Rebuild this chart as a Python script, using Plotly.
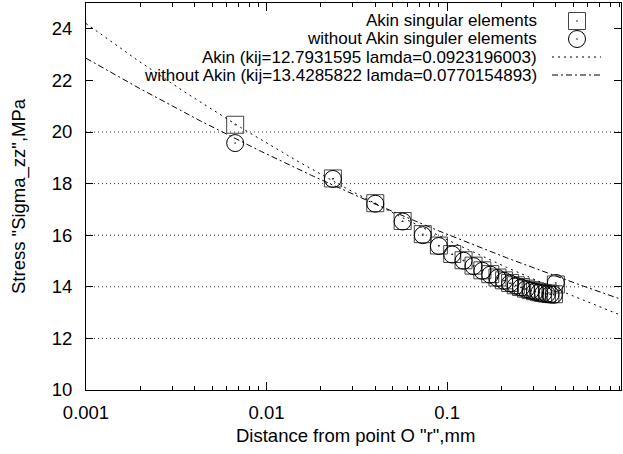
import numpy as np
import plotly.graph_objects as go

# ---- data ----
r_akin = [0.0067, 0.0233, 0.040, 0.0567, 0.0733, 0.090, 0.1067, 0.1233, 0.140, 0.1567,
          0.1733, 0.190, 0.2067, 0.2233, 0.240, 0.2567, 0.2733, 0.290, 0.3067, 0.3233,
          0.340, 0.3567, 0.3733, 0.390, 0.400]
stress_akin = [20.28, 18.20, 17.24, 16.55, 16.04, 15.60, 15.27, 15.03, 14.82, 14.64,
               14.49, 14.36, 14.25, 14.15, 14.06, 13.99, 13.93, 13.87, 13.83, 13.79,
               13.76, 13.74, 13.72, 13.71, 14.09]
r_without = list(r_akin)
stress_without = [19.57, 18.18, 17.22, 16.53, 16.00, 15.58, 15.25, 15.01, 14.80, 14.62,
                  14.47, 14.34, 14.23, 14.13, 14.04, 13.97, 13.91, 13.85, 13.81, 13.77,
                  13.74, 13.72, 13.70, 13.69, 14.15]

# fitted power laws  sigma = kij * r^(-lamda)  (parameters from the legend)
kij_akin, lamda_akin = 12.7931595, 0.0923196003
kij_without, lamda_without = 13.4285822, 0.0770154893

x_tickvals = [0.001, 0.01, 0.1]
x_ticktext = ["0.001", "0.01", "0.1"]
x_minor = [k * 10.0 ** e for e in (-3, -2, -1) for k in range(2, 10)]
y_tickvals = [10, 12, 14, 16, 18, 20, 22, 24]
y_grid = [12, 14, 16, 18, 20]
x_grid = [0.01, 0.1]

legend_labels = ["Akin singular elements", "without Akin singuler elements",
                 "Akin (kij=12.7931595 lamda=0.0923196003)",
                 "without Akin (kij=13.4285822 lamda=0.0770154893)"]

x_title = 'Distance from point O "r",mm'
y_title = 'Stress "Sigma_zz",MPa'

# ---- layout geometry ----
W, H = 623, 454
L, R, T, B = 86, 2, 3, 64
PW, PH = W - L - R, H - T - B
X_MAX = 0.918
FONT = "Liberation Sans, Arial, sans-serif"
FS = 18.5
FS_KEY = 17


def px(xp):
    return (xp - L) / PW


def py(yp):
    return 1 - (yp - T) / PH


r_fit = np.logspace(-3, np.log10(X_MAX), 300)
fit_akin = kij_akin * r_fit ** (-lamda_akin)
fit_without = kij_without * r_fit ** (-lamda_without)

fig = go.Figure()
fig.add_trace(go.Scatter(x=r_akin, y=stress_akin, mode="markers",
                         marker=dict(symbol="square-open-dot", size=17, color="#444",
                                     line=dict(width=1, color="#444")),
                         showlegend=False))
fig.add_trace(go.Scatter(x=r_without, y=stress_without, mode="markers",
                         marker=dict(symbol="circle-open-dot", size=17, color="black",
                                     line=dict(width=1, color="black")),
                         showlegend=False))
fig.add_trace(go.Scatter(x=r_fit, y=fit_akin, mode="lines",
                         line=dict(color="black", width=1, dash="2px,4px"),
                         showlegend=False))
fig.add_trace(go.Scatter(x=r_fit, y=fit_without, mode="lines",
                         line=dict(color="black", width=1, dash="6px,3px,2px,3px"),
                         showlegend=False))

shapes = []
grid_line = dict(color="#333", width=1, dash="1px,3px")
for g in y_grid:
    shapes.append(dict(type="line", xref="paper", yref="y", x0=0, x1=1, y0=g, y1=g,
                       line=grid_line, layer="below"))
for g in x_grid:
    shapes.append(dict(type="line", xref="x", yref="y", x0=np.log10(g), x1=np.log10(g),
                       y0=10, y1=21.6, line=grid_line, layer="below"))

# key (gnuplot style: text right-aligned, sample on the right)
rows = [21, 39, 57, 75]
text_right = 539
sx0, sx1, sxc = 552, 601, 577
annotations = []
for lab, ry in zip(legend_labels, rows):
    annotations.append(dict(text=lab, xref="paper", yref="paper", x=px(text_right), y=py(ry),
                            xanchor="right", yanchor="middle", showarrow=False,
                            font=dict(family=FONT, size=FS_KEY, color="black")))
hs = 8.5
shapes.append(dict(type="rect", xref="paper", yref="paper",
                   x0=px(sxc - hs), x1=px(sxc + hs), y0=py(rows[0] + hs), y1=py(rows[0] - hs),
                   line=dict(color="#444", width=1)))
shapes.append(dict(type="circle", xref="paper", yref="paper",
                   x0=px(sxc - hs), x1=px(sxc + hs), y0=py(rows[1] + hs), y1=py(rows[1] - hs),
                   line=dict(color="black", width=1)))
for ry in rows[:2]:
    shapes.append(dict(type="rect", xref="paper", yref="paper",
                       x0=px(sxc - 0.7), x1=px(sxc + 0.7), y0=py(ry + 0.7), y1=py(ry - 0.7),
                       line=dict(width=0), fillcolor="#333"))
shapes.append(dict(type="line", xref="paper", yref="paper", x0=px(sx0), x1=px(sx1),
                   y0=py(rows[2]), y1=py(rows[2]), line=dict(color="black", width=1, dash="2px,4px")))
shapes.append(dict(type="line", xref="paper", yref="paper", x0=px(sx0), x1=px(sx1),
                   y0=py(rows[3]), y1=py(rows[3]), line=dict(color="black", width=1, dash="6px,3px,2px,3px")))

annotations.append(dict(text=x_title, xref="paper", yref="paper", x=px(355), y=py(435),
                        xanchor="center", yanchor="middle", showarrow=False,
                        font=dict(family=FONT, size=FS, color="black")))
annotations.append(dict(text=y_title, xref="paper", yref="paper", x=px(19), y=py(196),
                        xanchor="center", yanchor="middle", showarrow=False, textangle=-90,
                        font=dict(family=FONT, size=FS, color="black")))

fig.update_layout(
    width=W, height=H,
    margin=dict(l=L, r=R, t=T, b=B, autoexpand=False),
    paper_bgcolor="white", plot_bgcolor="white",
    font=dict(family=FONT, size=FS, color="black"),
    shapes=shapes, annotations=annotations, showlegend=False,
    xaxis=dict(type="log", range=[-3, np.log10(X_MAX)], tickvals=x_tickvals, ticktext=x_ticktext,
               ticks="inside", ticklen=8, tickcolor="black", showline=True, linecolor="black",
               linewidth=1, mirror="allticks", showgrid=False, zeroline=False,
               ticklabelstandoff=6,
               minor=dict(tickvals=x_minor, ticks="inside", ticklen=4, tickcolor="black",
                          showgrid=False),
               tickfont=dict(family=FONT, size=FS, color="black")),
    yaxis=dict(range=[10, 25], tickvals=y_tickvals, ticks="inside", ticklen=7,
               tickcolor="black", showline=True, linecolor="black", linewidth=1,
               mirror="allticks", showgrid=False, zeroline=False, ticklabelstandoff=9,
               tickfont=dict(family=FONT, size=FS, color="black")),
)

fig.write_html("out.html")
